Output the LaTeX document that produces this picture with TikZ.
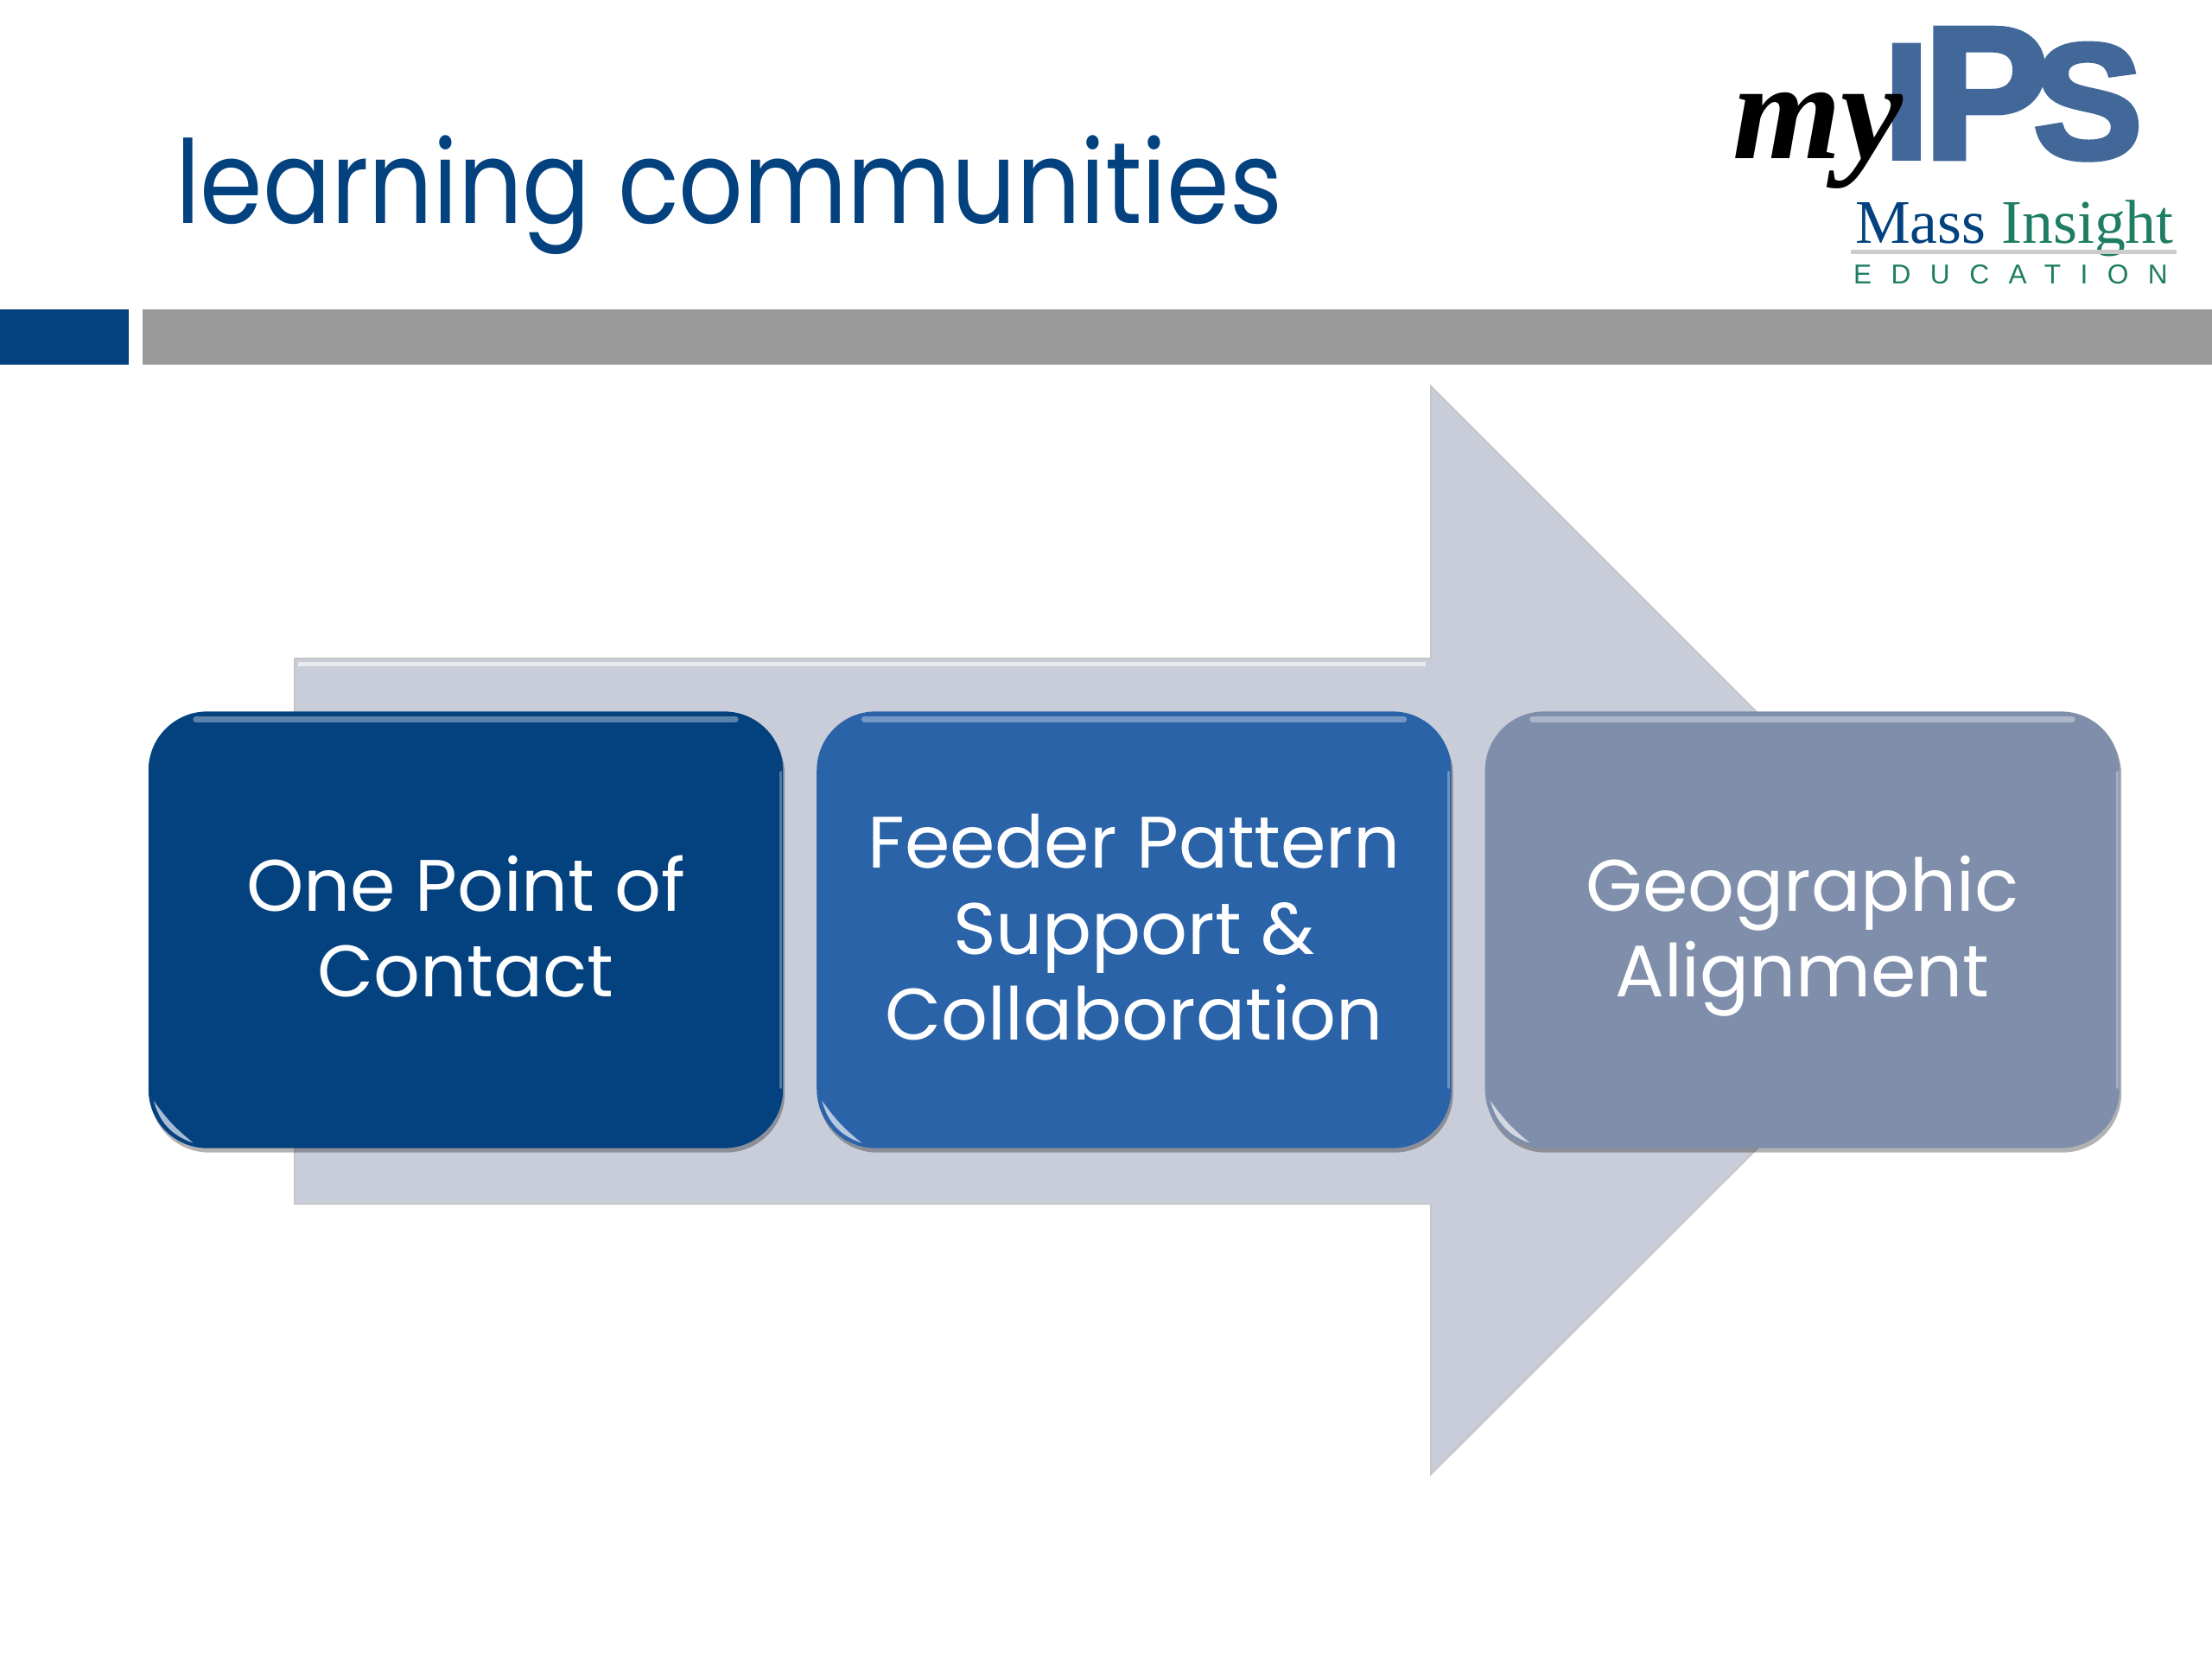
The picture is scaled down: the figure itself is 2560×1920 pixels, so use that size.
\documentclass[tikz,border=0pt]{standalone}
\usepackage{fontspec}
\setmainfont{Poppins}
\newfontfamily\titlefont[FakeStretch=0.874]{Poppins}
\newfontfamily\logoserif{Liberation Serif}
\newfontfamily\logoheavy[FakeBold=3]{Liberation Sans}
\newfontfamily\logospaced[LetterSpace=71]{Liberation Sans}
\usepackage{xcolor}
\usetikzlibrary{positioning,shadows}
\definecolor{navy}{HTML}{03417F}
\definecolor{midblue}{HTML}{2B63A9}
\definecolor{slate}{HTML}{7F8FAB}
\definecolor{arrowgray}{HTML}{C9CDD9}
\definecolor{bargray}{HTML}{9A9A9A}
\definecolor{logoblue}{HTML}{42689A}
\definecolor{logogreen}{HTML}{1F7D63}
\newcommand{\boxtop}{\rule{0pt}{0.91cm}}
\newcommand{\boxbottom}{\rule[-0.35cm]{0pt}{0.35cm}}

\begin{document}
\begin{tikzpicture}[
	x=0.01cm, y=-0.01cm,
	every node/.style={inner sep=0pt, outer sep=0pt},
	box/.style={rounded corners=0.68cm, align=center, text=white, minimum width=7.34cm, minimum height=5.05cm,
		font=\fontsize{24}{28.4}\selectfont,
		drop shadow={shadow xshift=0.02cm, shadow yshift=-0.05cm, opacity=0.3, fill=black}},
	gloss/.style={line width=0.07cm, line cap=round, white, opacity=0.35},
	edge/.style={line width=0.03cm, line cap=round, white, opacity=0.3},
	spark/.style={fill=white, opacity=0.65},
	node distance=0.39cm
	]
	
	\useasboundingbox (0,0) rectangle (2560,1920);
	
	% header
	\node[anchor=base west, text=navy, font=\titlefont\fontsize{38}{38}\selectfont] (Title) at (203,258) {learning communities};
	\fill[navy] (0,358) rectangle (149,422);
	\fill[bargray] (165,358) rectangle (2560,422);
	
	% logo
	\node[anchor=base west, text=logoblue, font=\logoheavy\bfseries\fontsize{54}{54}\selectfont] (I) at (2180,183) {I};
	\node[anchor=base west, text=logoblue, font=\logoheavy\bfseries\fontsize{62}{62}\selectfont] (P) at (2226,183) {P};
	\node[anchor=base west, text=logoblue, font=\logoheavy\bfseries\fontsize{54}{54}\selectfont] (S) at (2353,183) {S};
	\node[anchor=base west, font=\logoserif\bfseries\itshape\fontsize{46}{46}\selectfont] (My) at (2005,183) {my};
	\node[anchor=base west, font=\logoserif\fontsize{20.4}{20.4}\selectfont] (Mass) at (2147,281) {\textcolor{navy}{Mass} \textcolor{logogreen}{Insight}};
	\fill[gray!40] (2142,289) rectangle (2519,294);
	\node[anchor=base west, text=logogreen, font=\logospaced\fontsize{9}{9}\selectfont] (Education) at (2145,328) {EDUCATION};
	
	% big arrow
	\filldraw[fill=arrowgray, draw=gray!45, line width=0.02cm] (341,762) -- (1656,762) -- (1656,447) -- (2286,1077) -- (1656,1706) -- (1656,1393) -- (341,1393) -- cycle;
	\draw[white, line width=0.05cm, opacity=0.6] (345,768) -- (1650,768);
	
	% boxes
	\node[box, fill=navy] (Contact) at (539,1076) {\boxtop One Point of\\ Contact\boxbottom};
	\node[box, fill=midblue, right=of Contact] (Feeder) {\boxtop Feeder Pattern\\ Support \&\\ Collaboration\boxbottom};
	\node[box, fill=slate, right=of Feeder] (Geographic) {\boxtop Geographic\\ Alignment\boxbottom};
	
	\foreach \boxname in {Contact,Feeder,Geographic} {
		\draw[gloss] ([xshift=0.55cm,yshift=-0.09cm]\boxname.north west) -- ([xshift=-0.55cm,yshift=-0.09cm]\boxname.north east);
		\draw[edge] ([xshift=-0.03cm,yshift=-0.7cm]\boxname.north east) -- ([xshift=-0.03cm,yshift=0.7cm]\boxname.south east);
		\fill[spark] ([xshift=0.06cm,yshift=0.55cm]\boxname.south west) to[bend right=28] ([xshift=0.52cm,yshift=0.06cm]\boxname.south west) to[bend left=8] cycle;
	}
	
\end{tikzpicture}
\end{document}
